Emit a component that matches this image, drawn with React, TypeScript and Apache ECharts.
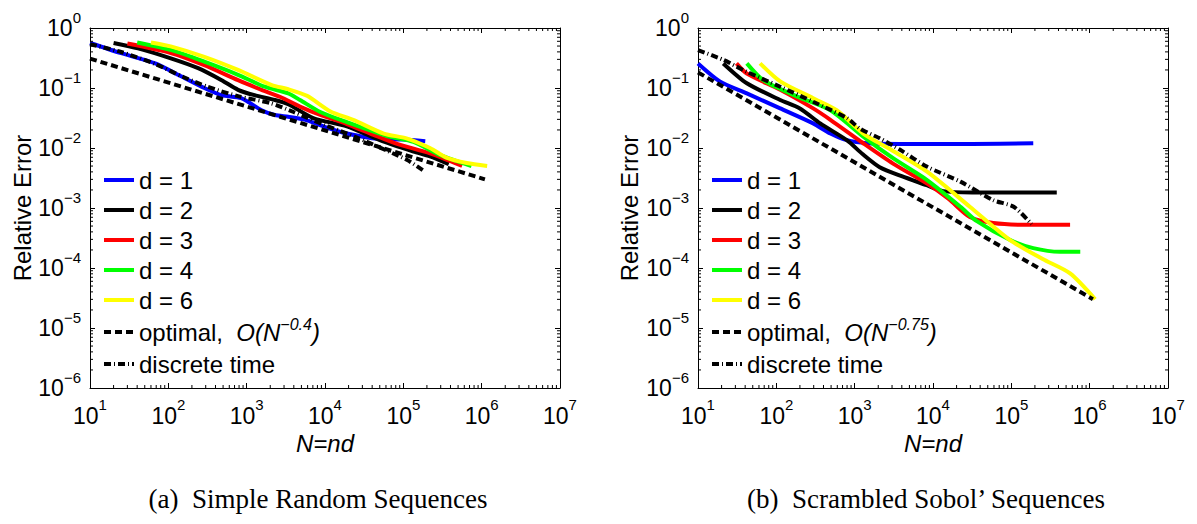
import React, { useEffect, useRef } from "react";
import * as echarts from "echarts";

// ---------- axis ranges / ticks ----------
const X_MIN = 10;
const X_MAX = 1e7;
const Y_MIN = 1e-6;
const Y_MAX = 1;
const X_TICK_EXPONENTS = [1, 2, 3, 4, 5, 6, 7];
const Y_TICK_EXPONENTS = [-6, -5, -4, -3, -2, -1, 0];

// ---------- names / labels ----------
const SERIES_NAMES = ["d = 1", "d = 2", "d = 3", "d = 4", "d = 6"];
const SERIES_COLORS = ["#0000ff", "#000000", "#ff0000", "#00ff00", "#ffff00"];
const OPTIMAL_NAME = "optimal";
const DISCRETE_NAME = "discrete time";
const OPTIMAL_EXPONENTS = ["\u22120.4", "\u22120.75"];
const X_LABEL = "N=nd";
const Y_LABEL = "Relative Error";
const CAPTIONS = ["(a)  Simple Random Sequences", "(b)  Scrambled Sobol\u2019 Sequences"];

// ---------- (a) Simple Random Sequences : [N, relative error] ----------
const simpleD1 = [
  [10, 0.562], [25, 0.38], [68, 0.257], [148, 0.155], [288, 0.1], [479, 0.0759],
  [851, 0.0676], [1549, 0.0427], [2291, 0.0355], [3388, 0.0331], [5623, 0.0295],
  [9550, 0.0229], [19050, 0.0174], [50120, 0.0141], [100000, 0.0138], [190500, 0.0129],
];
const simpleD2 = [
  [20, 0.562], [41, 0.457], [110, 0.309], [240, 0.214], [479, 0.135], [776, 0.0933],
  [1259, 0.0759], [2291, 0.0631], [3388, 0.0537], [7079, 0.0316], [19050, 0.0229],
  [50120, 0.0135], [134900, 0.00871], [218800, 0.00724], [380200, 0.00537],
];
const simpleD3 = [
  [30, 0.55], [110, 0.38], [288, 0.24], [776, 0.135], [1549, 0.0933], [2692, 0.0708],
  [4786, 0.049], [8710, 0.0355], [19050, 0.0251], [41690, 0.0166], [83180, 0.0117],
  [218800, 0.00813], [562300, 0.00501],
];
const simpleD4 = [
  [40, 0.575], [110, 0.427], [288, 0.275], [776, 0.166], [1698, 0.105], [3388, 0.0813],
  [4786, 0.0631], [8710, 0.0398], [19050, 0.0269], [61660, 0.0158], [134900, 0.0126],
  [295100, 0.00759], [741300, 0.00501],
];
const simpleD6 = [
  [60, 0.575], [110, 0.49], [288, 0.331], [776, 0.2], [2089, 0.112], [3388, 0.0955],
  [5888, 0.0741], [11750, 0.0407], [22910, 0.0295], [56230, 0.0174], [109600, 0.0145],
  [218800, 0.01], [354800, 0.00692], [645700, 0.00562], [1175000, 0.00501],
];
const simpleOptimal = [[10, 0.309], [1100000, 0.003]];
const simpleDiscrete = [
  [10, 0.537], [25, 0.398], [68, 0.251], [158, 0.151], [316, 0.105], [794, 0.0724],
  [1995, 0.0562], [3981, 0.0398], [10000, 0.024], [25120, 0.0151], [63100, 0.00891],
  [112200, 0.00631], [182000, 0.00417],
];

// ---------- (b) Scrambled Sobol' Sequences : [N, relative error] ----------
const sobolD1 = [
  [10, 0.257], [19, 0.129], [42, 0.0813], [112, 0.0457], [295, 0.0257], [490, 0.0174],
  [794, 0.0135], [1445, 0.012], [3802, 0.0117], [31620, 0.0117], [190500, 0.012],
];
const sobolD2 = [
  [21, 0.257], [42, 0.12], [112, 0.0631], [200, 0.0457], [363, 0.0257], [794, 0.0135],
  [1259, 0.00794], [2089, 0.00479], [3981, 0.00339], [8318, 0.0024], [13490, 0.00191],
  [31620, 0.00182], [100000, 0.00182], [380200, 0.00182],
];
const sobolD3 = [
  [31, 0.257], [42, 0.174], [112, 0.0933], [295, 0.0457], [490, 0.0295], [1288, 0.012],
  [3090, 0.0055], [8318, 0.00257], [15850, 0.00141], [29510, 0.000708], [58880, 0.000562],
  [158500, 0.000525], [562300, 0.000525],
];
const sobolD4 = [
  [42, 0.257], [68, 0.135], [182, 0.0724], [490, 0.0427], [1288, 0.0155], [3090, 0.00676],
  [8318, 0.00295], [22390, 0.00105], [36310, 0.000603], [95500, 0.000295], [190500, 0.000214],
  [416900, 0.000186], [758600, 0.000186],
];
const sobolD6 = [
  [62, 0.257], [112, 0.129], [295, 0.0676], [589, 0.0427], [1288, 0.0174], [3090, 0.00891],
  [8318, 0.00407], [29510, 0.00105], [95500, 0.000295], [251200, 0.000141],
  [562300, 0.0000813], [1175000, 0.0000302],
];
const sobolOptimal = [[10, 0.182], [1100000, 0.0000302]];
const sobolDiscrete = [
  [10, 0.427], [21, 0.295], [42, 0.186], [112, 0.105], [295, 0.0589], [794, 0.0316],
  [1175, 0.0209], [2089, 0.0145], [3802, 0.00933], [8318, 0.0049], [22390, 0.00275],
  [58880, 0.00135], [107200, 0.00105], [182000, 0.000537],
];

const PANELS = [
  { curves: [simpleD1, simpleD2, simpleD3, simpleD4, simpleD6], optimal: simpleOptimal, discrete: simpleDiscrete },
  { curves: [sobolD1, sobolD2, sobolD3, sobolD4, sobolD6], optimal: sobolOptimal, discrete: sobolDiscrete },
];

// ---------- layout / style ----------
const FONT = '"Liberation Sans", Arial, Helvetica, sans-serif';
const SERIF = '"Liberation Serif", "Times New Roman", serif';
const GRID_LEFT = [90, 698];
const GRID_TOP = 28;
const GRID_W = 470;
const GRID_H = 360;
const LINE_W = 4;
const TEXT_SIZE = 24;

const tickRich = {
  b: { fontSize: 23, fontFamily: FONT, color: "#000" },
  s: { fontSize: 15, fontFamily: FONT, color: "#000", padding: [0, 0, 22, 0] },
};

function expText(e: number) {
  return e < 0 ? "\u2212" + -e : String(e);
}
function tickFormatter(v: number) {
  const e = Math.round(Math.log10(v));
  return `{b|10}{s|${expText(e)}}`;
}

export default function App() {
  const ref = useRef<HTMLDivElement>(null);

  useEffect(() => {
    if (!ref.current) return;
    const chart = echarts.init(ref.current, null, { renderer: "svg" });

    const grid = GRID_LEFT.map((l) => ({ left: l, top: GRID_TOP, width: GRID_W, height: GRID_H }));

    const xAxis: any[] = [];
    const yAxis: any[] = [];
    GRID_LEFT.forEach((_, gi) => {
      xAxis.push({
        type: "log", logBase: 10, gridIndex: gi, min: X_MIN, max: X_MAX, position: "bottom",
        name: X_LABEL, nameLocation: "middle", nameGap: 37,
        nameTextStyle: { fontSize: TEXT_SIZE, fontFamily: FONT, fontStyle: "italic", color: "#000" },
        axisLine: { show: true, lineStyle: { color: "#000", width: 1 } },
        axisTick: { show: true, inside: true, length: 5, lineStyle: { color: "#000" } },
        axisLabel: { formatter: tickFormatter, margin: 9, rich: tickRich, hideOverlap: false },
        splitLine: { show: false },
      });
      xAxis.push({
        type: "log", logBase: 10, gridIndex: gi, min: X_MIN, max: X_MAX, position: "top",
        axisLine: { show: true, lineStyle: { color: "#000", width: 1 } },
        axisTick: { show: true, inside: true, length: 5, lineStyle: { color: "#000" } },
        axisLabel: { show: false },
        splitLine: { show: false },
      });
      yAxis.push({
        type: "log", logBase: 10, gridIndex: gi, min: Y_MIN, max: Y_MAX, position: "left",
        name: Y_LABEL, nameLocation: "middle", nameGap: gi === 0 ? 55 : 57, nameRotate: 90,
        nameTextStyle: { fontSize: TEXT_SIZE, fontFamily: FONT, color: "#000" },
        axisLine: { show: true, lineStyle: { color: "#000", width: 1 } },
        axisTick: { show: true, inside: true, length: 5, lineStyle: { color: "#000" } },
        axisLabel: { formatter: tickFormatter, margin: 9, rich: tickRich, hideOverlap: false },
        splitLine: { show: false },
      });
      yAxis.push({
        type: "log", logBase: 10, gridIndex: gi, min: Y_MIN, max: Y_MAX, position: "right",
        axisLine: { show: true, lineStyle: { color: "#000", width: 1 } },
        axisTick: { show: true, inside: true, length: 5, lineStyle: { color: "#000" } },
        axisLabel: { show: false },
        splitLine: { show: false },
      });
    });

    const series: any[] = [];
    PANELS.forEach((p, gi) => {
      const xi = gi * 2;
      const yi = gi * 2;
      p.curves.forEach((data, i) => {
        series.push({
          type: "line", name: SERIES_NAMES[i], xAxisIndex: xi, yAxisIndex: yi,
          data, symbol: "none", smooth: 0.25,
          lineStyle: { color: SERIES_COLORS[i], width: LINE_W },
          itemStyle: { color: SERIES_COLORS[i] },
        });
      });
      series.push({
        type: "line", name: OPTIMAL_NAME, xAxisIndex: xi, yAxisIndex: yi,
        data: p.optimal, symbol: "none",
        lineStyle: { color: "#000", width: LINE_W, type: [7, 4] },
        itemStyle: { color: "#000" },
      });
      series.push({
        type: "line", name: DISCRETE_NAME, xAxisIndex: xi, yAxisIndex: yi,
        data: p.discrete, symbol: "none", smooth: 0.25,
        lineStyle: { color: "#000", width: LINE_W, type: [7, 3, 1, 3] },
        itemStyle: { color: "#000" },
      });
      // minor ticks on all four sides, placed through the log axes
      series.push({
        type: "custom", xAxisIndex: xi, yAxisIndex: yi, silent: true, z: 10,
        data: [[100, 0.01]],
        renderItem: (_params: any, api: any) => {
          const bl = api.coord([X_MIN, Y_MIN]);
          const tr = api.coord([X_MAX, Y_MAX]);
          const children: any[] = [];
          const ln = (x1: number, y1: number, x2: number, y2: number) => ({
            type: "line", shape: { x1, y1, x2, y2 }, style: { stroke: "#000", lineWidth: 1 },
          });
          for (let k = X_TICK_EXPONENTS[0]; k < X_TICK_EXPONENTS[X_TICK_EXPONENTS.length - 1]; k++) {
            for (let m = 2; m < 10; m++) {
              const px = api.coord([m * Math.pow(10, k), Y_MIN])[0];
              children.push(ln(px, bl[1], px, bl[1] - 3), ln(px, tr[1], px, tr[1] + 3));
            }
          }
          for (let k = Y_TICK_EXPONENTS[0]; k < Y_TICK_EXPONENTS[Y_TICK_EXPONENTS.length - 1]; k++) {
            for (let m = 2; m < 10; m++) {
              const py = api.coord([X_MIN, m * Math.pow(10, k)])[1];
              children.push(ln(bl[0], py, bl[0] + 3, py), ln(tr[0], py, tr[0] - 3, py));
            }
          }
          return { type: "group", children };
        },
      });
    });

    const legendText = { fontSize: TEXT_SIZE, fontFamily: FONT, color: "#000", lineHeight: 24 };
    const legend: any[] = [];
    GRID_LEFT.forEach((l, gi) => {
      legend.push({
        left: l + 12, top: 168, padding: 0, orient: "vertical", itemWidth: 30, itemHeight: 24, itemGap: 6,
        selectedMode: false, data: SERIES_NAMES, textStyle: legendText,
        itemStyle: { opacity: 0 },
        lineStyle: { width: LINE_W },
      });
      legend.push({
        left: l + 12, top: 316, padding: 0, orient: "vertical", itemWidth: 30, itemHeight: 24, itemGap: 8,
        selectedMode: false, data: [OPTIMAL_NAME, DISCRETE_NAME],
        itemStyle: { opacity: 0 },
        lineStyle: { width: LINE_W },
        formatter: (n: string) =>
          n === OPTIMAL_NAME ? `{t|optimal,  }{i|O(N}{s|${OPTIMAL_EXPONENTS[gi]}}{i|)}` : n,
        textStyle: {
          ...legendText,
          rich: {
            t: { fontSize: TEXT_SIZE, fontFamily: FONT, color: "#000" },
            i: { fontSize: TEXT_SIZE, fontFamily: FONT, fontStyle: "italic", color: "#000" },
            s: { fontSize: 16, fontFamily: FONT, fontStyle: "italic", color: "#000", padding: [0, 0, 16, 0] },
          },
        },
      });
    });

    const graphic = CAPTIONS.map((c, gi) => ({
      type: "text",
      x: GRID_LEFT[gi] + GRID_W / 2 - 7,
      y: 499,
      style: { text: c, font: `27px ${SERIF}`, fill: "#000", textAlign: "center", textVerticalAlign: "middle" },
    }));

    chart.setOption({
      animation: false,
      backgroundColor: "#fff",
      grid, xAxis, yAxis, series, legend, graphic,
    });

    return () => chart.dispose();
  }, []);

  return (
    <div
      ref={ref}
      style={{ position: "fixed", left: 0, top: 0, width: 1197, height: 524, background: "#fff" }}
    />
  );
}
